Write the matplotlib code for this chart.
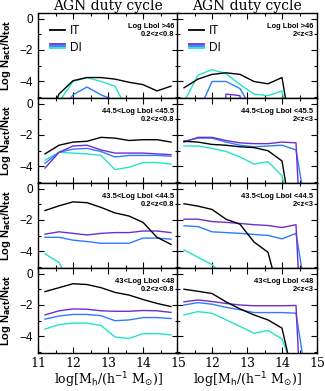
import numpy as np
import matplotlib
matplotlib.use("Agg")
import matplotlib.pyplot as plt
from matplotlib.lines import Line2D
from matplotlib.legend_handler import HandlerBase
from matplotlib.ticker import MultipleLocator

# halo mass bins (log M_h)
mass_bins = [11.2, 11.6, 12.0, 12.4, 12.8, 13.2, 13.6, 14.0, 14.4, 14.8]
nan = np.nan

# panel labels
lum_labels = ["Log Lbol >46", "44.5<Log Lbol <45.5", "43.5<Log Lbol <44.5", "43<Log Lbol <48"]
z_labels = ["0.2<z<0.8", "2<z<3"]

# ---- low redshift column (0.2<z<0.8) ----
it_lowz = [
    [-7.0, -4.8, -3.95, -3.75, -3.75, -3.85, -4.05, -4.2, -4.6, -4.3],
    [-3.2, -2.65, -2.45, -2.4, -2.15, -2.2, -2.35, -2.3, -2.3, -2.45],
    [-1.4, -1.1, -0.85, -0.9, -1.2, -1.55, -1.75, -2.15, -3.1, -3.55],
    [-1.15, -0.9, -0.65, -0.7, -0.9, -1.2, -1.37, -1.65, -1.9, -2.1],
]
di_purple_lowz = [
    [nan, nan, nan, nan, nan, nan, nan, nan, nan, nan],
    [-4.1, -3.1, -2.7, -2.65, -2.95, -3.15, -3.15, -3.15, -3.2, -3.25],
    [-2.9, -2.75, -2.85, -2.95, -2.85, -2.8, -2.8, -2.7, -2.7, -2.8],
    [-2.63, -2.37, -2.25, -2.27, -2.37, -2.4, -2.4, -2.35, -2.37, -2.47],
]
di_blue_lowz = [
    [nan, -6.0, -4.85, -4.35, -4.85, -5.2, nan, nan, nan, nan],
    [-3.8, -3.1, -2.9, -2.85, -3.05, -3.4, -3.3, -3.3, -3.3, -3.35],
    [-3.1, -3.1, -3.28, -3.37, -3.48, -3.48, -3.48, -3.15, -3.15, -3.22],
    [-2.9, -2.7, -2.6, -2.6, -2.68, -3.0, -2.95, -2.8, -2.8, -2.86],
]
di_cyan_lowz = [
    [nan, -5.3, -4.0, -3.75, -4.0, -4.3, -6.0, nan, nan, nan],
    [-3.6, -3.1, -3.15, -3.2, -3.3, -4.2, -4.05, -3.75, -3.75, -3.85],
    [-4.15, -4.7, -6.45, nan, nan, nan, nan, nan, nan, nan],
    [-3.53, -3.25, -3.15, -3.15, -3.3, -4.03, -4.13, -3.82, -3.82, -3.9],
]

# ---- high redshift column (2<z<3) ----
it_highz = [
    [-4.4, -3.85, -3.55, -3.45, -3.55, -4.0, -4.15, -3.75, -9.0, nan],
    [-2.4, -2.45, -2.6, -2.65, -2.75, -2.8, -3.0, -3.65, -9.0, nan],
    [-0.97, -1.12, -1.33, -1.95, -2.27, -3.4, -4.05, -7.4, nan, nan],
    [-1.0, -1.13, -1.27, -1.8, -2.25, -2.63, -2.95, -3.47, -7.4, nan],
]
di_purple_highz = [
    [nan, nan, -20.0, -4.8, -4.9, -20.0, nan, nan, nan, nan],
    [-2.45, -2.15, -2.15, -2.35, -2.5, -2.55, -2.55, -2.45, -2.5, -20.0],
    [-1.95, -1.95, -2.1, -2.15, -2.22, -2.3, -2.35, -2.48, -2.3, -20.0],
    [-1.8, -1.68, -1.78, -1.9, -2.0, -2.05, -2.05, -2.05, -2.03, -20.0],
]
di_blue_highz = [
    [nan, -6.0, -4.0, -4.0, -4.45, -6.0, nan, nan, nan, nan],
    [-2.4, -2.2, -2.2, -2.45, -2.65, -2.75, -2.7, -2.65, -2.95, -8.2],
    [-2.37, -2.42, -2.75, -2.8, -2.85, -2.92, -2.98, -3.2, -2.85, -8.2],
    [-2.0, -1.85, -1.95, -2.15, -2.3, -2.48, -2.48, -2.48, -2.52, -8.2],
]
di_cyan_highz = [
    [-5.3, -3.6, -3.25, -3.5, -4.2, -4.8, -4.9, -4.6, -9.0, nan],
    [-2.7, -2.7, -2.85, -3.05, -3.4, -3.85, -3.7, -4.6, -9.0, nan],
    [-3.9, -4.37, -4.83, -5.63, nan, nan, nan, nan, nan, nan],
    [-2.63, -2.42, -2.53, -2.94, -3.36, -3.8, -3.62, -4.15, -6.5, nan],
]

c_it = "black"
c_purple = "#6b2fd1"
c_blue = "#2f7bff"
c_cyan = "#22e5c5"


class StackHandle:
    def __init__(self, colors):
        self.colors = colors


class HandlerStack(HandlerBase):
    # draws several short lines stacked on top of each other
    def create_artists(self, legend, orig_handle, xdescent, ydescent, width, height, fontsize, trans):
        out = []
        for i, c in enumerate(orig_handle.colors):
            y = height / 2.0 + (1 - i) * height * 0.25 - ydescent
            ln = Line2D([-xdescent, width - xdescent], [y, y], color=c, lw=1.3)
            ln.set_transform(trans)
            out.append(ln)
        return out


fig = plt.figure(figsize=(3.25, 3.91), dpi=100)

left_x = [38 / 325, 177 / 325]
ax_w = 140 / 325
top = 1 - 13 / 391
ax_h = 85 / 391

columns = [
    (it_lowz, di_purple_lowz, di_blue_lowz, di_cyan_lowz, z_labels[0]),
    (it_highz, di_purple_highz, di_blue_highz, di_cyan_highz, z_labels[1]),
]

for col in range(2):
    it, dp, db, dc, zlab = columns[col]
    for row in range(4):
        ax = fig.add_axes([left_x[col], top - (row + 1) * ax_h, ax_w, ax_h])
        ax.plot(mass_bins, dc[row], color=c_cyan, lw=1.0)
        ax.plot(mass_bins, db[row], color=c_blue, lw=1.0)
        ax.plot(mass_bins, dp[row], color=c_purple, lw=1.0)
        ax.plot(mass_bins, it[row], color=c_it, lw=1.0)

        ax.set_xlim(11, 15)
        ax.set_ylim(-5.05, 0.35)
        ax.xaxis.set_minor_locator(MultipleLocator(0.5))
        ax.yaxis.set_minor_locator(MultipleLocator(1))
        ax.set_yticks([0, -2, -4])
        ax.set_xticks([11, 12, 13, 14, 15])
        ax.tick_params(which="both", direction="in", top=True, right=True, width=0.8)
        ax.tick_params(which="major", length=4)
        ax.tick_params(which="minor", length=2)
        ax.tick_params(axis="x", pad=3)
        for sp in ax.spines.values():
            sp.set_linewidth(1.0)

        if col == 0:
            ax.set_yticklabels(["0", "\u22122", "\u22124"], fontsize=8.5, family="Liberation Sans")
            ax.set_ylabel(r"Log N$_{\mathbf{act}}$/N$_{\mathbf{tot}}$", fontsize=8,
                          fontweight="bold", family="Liberation Sans")
            ax.yaxis.set_label_coords(-0.175, 0.5)
        else:
            ax.set_yticklabels([])

        if row == 3:
            if col == 0:
                ax.set_xticklabels(["11", "12", "13", "14", "15"], fontsize=9, family="DejaVu Serif")
            else:
                ax.set_xticklabels(["", "12", "13", "14", "15"], fontsize=9, family="DejaVu Serif")
            ax.set_xlabel(r"log[M$_{\rm h}$/(h$^{-1}$ M$_{\odot}$)]", fontsize=9,
                          family="DejaVu Serif", labelpad=0)
        else:
            ax.set_xticklabels([])

        if row == 0:
            ax.set_title("AGN duty cycle", fontsize=10, family="DejaVu Serif", pad=2)
            handles = [Line2D([], [], color=c_it, lw=1.3), StackHandle([c_purple, c_blue, c_cyan])]
            ax.legend(handles, ["IT", "DI"], loc="upper left", frameon=False,
                      handlelength=1.3, handletextpad=0.4, labelspacing=0.4,
                      borderaxespad=0.6, handler_map={StackHandle: HandlerStack()},
                      prop={"family": "Liberation Sans", "size": 8.5})

        ax.text(0.975, 0.885, lum_labels[row] + "\n" + zlab, transform=ax.transAxes,
                ha="right", va="top", fontsize=5.4, fontweight="bold",
                family="Liberation Sans", linespacing=1.3, multialignment="right")

fig.savefig("out.png", dpi=100)
